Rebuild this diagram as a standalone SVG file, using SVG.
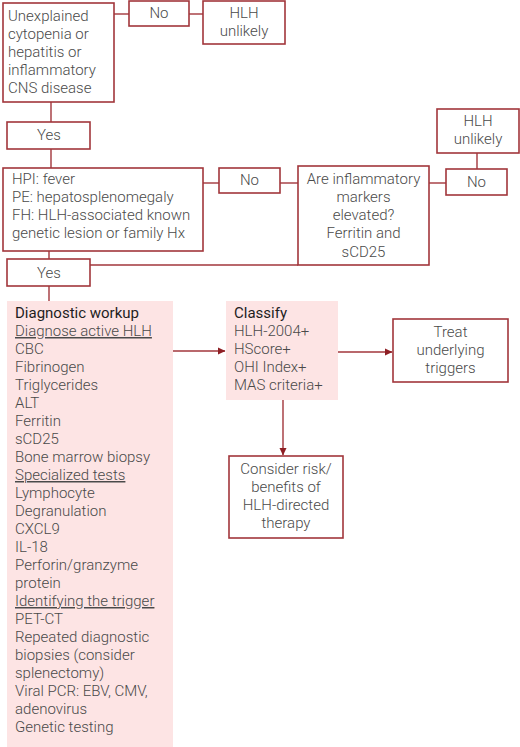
<svg xmlns="http://www.w3.org/2000/svg" width="520" height="747" viewBox="0 0 520 747">
<defs>
<style>
.box{fill:#fff;stroke:#a2363b;stroke-width:1.6}
.pink{fill:#fde4e4;stroke:none}
.c{fill:none;stroke:#a2363b;stroke-width:1.4}
text{font-family:Roboto,"Liberation Sans",sans-serif;font-weight:300;font-size:15px;fill:#4a4a4a}
.m{text-anchor:middle}
.h{font-weight:400;fill:#1e1e1e}
.u{text-decoration:underline}
</style>
<marker id="ah" markerWidth="8" markerHeight="8" refX="7" refY="4" orient="auto" markerUnits="userSpaceOnUse">
<path d="M0,0.5 L7.5,4 L0,7.5 Z" fill="#8e1f24"/>
</marker>
</defs>
<rect width="520" height="747" fill="#fff"/>
<g id="connectors">
<path class="c" d="M114,14 H129"/>
<path class="c" d="M189,14 H203"/>
<path class="c" d="M51,102 V122"/>
<path class="c" d="M51,149 V168"/>
<path class="c" d="M203,183 H219"/>
<path class="c" d="M280,183 H298"/>
<path class="c" d="M429,183 H446"/>
<path class="c" d="M477,153 V169"/>
<path class="c" d="M49,251 V259"/>
<path class="c" d="M90,265 H298"/>
<path class="c" d="M49,286 V301"/>
<path class="c" d="M173,351 H225" marker-end="url(#ah)"/>
<path class="c" d="M338,352 H392" marker-end="url(#ah)"/>
<path class="c" d="M283,400 V455" marker-end="url(#ah)"/>
</g>
<g id="n1">
<rect class="box" x="3" y="3" width="111" height="99"/>
<text x="8" y="20.5">Unexplained</text>
<text x="8" y="38.5">cytopenia or</text>
<text x="8" y="56.5">hepatitis or</text>
<text x="8" y="74.5">inflammatory</text>
<text x="8" y="92.5">CNS disease</text>
</g>
<g id="no1">
<rect class="box" x="129" y="1" width="60" height="25"/>
<text class="m" x="159" y="18">No</text>
</g>
<g id="unlikely1">
<rect class="box" x="203" y="1" width="82" height="43"/>
<text class="m" x="244" y="17.5">HLH</text>
<text class="m" x="244" y="35.5">unlikely</text>
</g>
<g id="yes1">
<rect class="box" x="7" y="122" width="83" height="27"/>
<text class="m" x="49" y="140">Yes</text>
</g>
<g id="hpi">
<rect class="box" x="3" y="168" width="200" height="83"/>
<text x="12" y="183.5">HPI: fever</text>
<text x="12" y="201.8">PE: hepatosplenomegaly</text>
<text x="12" y="220">FH: HLH-associated known</text>
<text x="12" y="238.3">genetic lesion or family Hx</text>
</g>
<g id="no2">
<rect class="box" x="219" y="168" width="61" height="25"/>
<text class="m" x="249.5" y="185">No</text>
</g>
<g id="inflam">
<rect class="box" x="298" y="166" width="131" height="99"/>
<text class="m" x="363.5" y="183.5">Are inflammatory</text>
<text class="m" x="363.5" y="201.8">markers</text>
<text class="m" x="363.5" y="220">elevated?</text>
<text class="m" x="363.5" y="238.3">Ferritin and</text>
<text class="m" x="363.5" y="256.5">sCD25</text>
</g>
<g id="no3">
<rect class="box" x="446" y="169" width="61" height="26"/>
<text class="m" x="476.5" y="186.5">No</text>
</g>
<g id="unlikely2">
<rect class="box" x="437" y="109" width="82" height="44"/>
<text class="m" x="478" y="125.5">HLH</text>
<text class="m" x="478" y="143.5">unlikely</text>
</g>
<g id="yes2">
<rect class="box" x="7" y="259" width="83" height="27"/>
<text class="m" x="49" y="277.5">Yes</text>
</g>
<g id="workup">
<rect class="pink" x="7" y="301" width="166" height="446"/>
<text class="h" x="15" y="318">Diagnostic workup</text>
<text class="u" x="15" y="336">Diagnose active HLH</text>
<text x="15" y="354">CBC</text>
<text x="15" y="372">Fibrinogen</text>
<text x="15" y="390">Triglycerides</text>
<text x="15" y="408">ALT</text>
<text x="15" y="426">Ferritin</text>
<text x="15" y="444">sCD25</text>
<text x="15" y="462">Bone marrow biopsy</text>
<text class="u" x="15" y="480">Specialized tests</text>
<text x="15" y="498">Lymphocyte</text>
<text x="15" y="516">Degranulation</text>
<text x="15" y="534">CXCL9</text>
<text x="15" y="552">IL-18</text>
<text x="15" y="570">Perforin/granzyme</text>
<text x="15" y="588">protein</text>
<text class="u" x="15" y="606">Identifying the trigger</text>
<text x="15" y="624">PET-CT</text>
<text x="15" y="642">Repeated diagnostic</text>
<text x="15" y="660">biopsies (consider</text>
<text x="15" y="678">splenectomy)</text>
<text x="15" y="696">Viral PCR: EBV, CMV,</text>
<text x="15" y="714">adenovirus</text>
<text x="15" y="732">Genetic testing</text>
</g>
<g id="classify">
<rect class="pink" x="226" y="301" width="112" height="99"/>
<text class="h" x="234" y="318">Classify</text>
<text x="234" y="336">HLH-2004+</text>
<text x="234" y="354">HScore+</text>
<text x="234" y="372">OHI Index+</text>
<text x="234" y="390">MAS criteria+</text>
</g>
<g id="treat">
<rect class="box" x="393" y="319" width="115" height="63"/>
<text class="m" x="450.5" y="337">Treat</text>
<text class="m" x="450.5" y="355">underlying</text>
<text class="m" x="450.5" y="373">triggers</text>
</g>
<g id="consider">
<rect class="box" x="229" y="456" width="114" height="82"/>
<text class="m" x="286" y="474">Consider risk/</text>
<text class="m" x="286" y="492">benefits of</text>
<text class="m" x="286" y="510">HLH-directed</text>
<text class="m" x="286" y="528">therapy</text>
</g>
</svg>
